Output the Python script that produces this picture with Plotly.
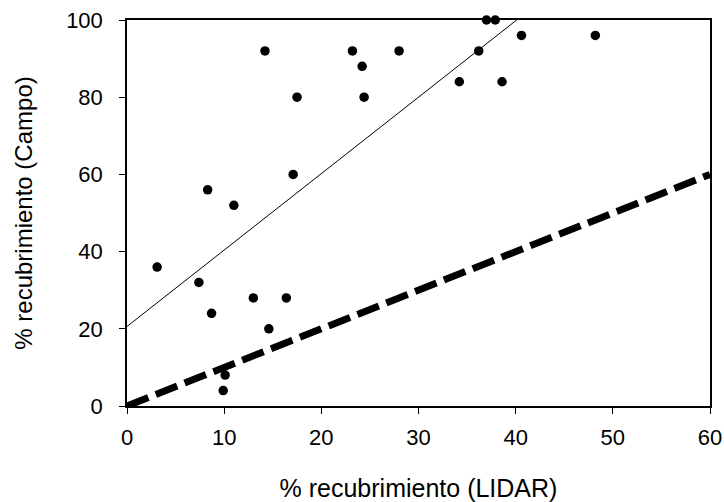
import plotly.graph_objects as go

# Cobertura medida con LIDAR frente a la medida en campo (%)
lidar = [3.1, 7.4, 8.3, 8.7, 10.1, 9.9, 11.0, 13.0, 14.2, 14.6, 16.4, 17.1,
         17.5, 23.2, 24.2, 24.4, 28.0, 34.2, 36.2, 37.0, 37.9, 38.6, 40.6, 48.2]
campo = [36, 32, 56, 24, 8, 4, 52, 28, 92, 20, 28, 60,
         80, 92, 88, 80, 92, 84, 92, 100, 100, 84, 96, 96]

# Recta de ajuste (campo = a + b * lidar)
fit_intercept = 20.6
fit_slope = 1.98

# Extremos del eje X y línea 1:1
x_limits = [0, 60]
one_to_one = [0, 60]

font_family = "Liberation Sans, Arial, sans-serif"

fig = go.Figure()

fig.add_trace(go.Scatter(
    x=x_limits,
    y=[fit_intercept + fit_slope * v for v in x_limits],
    mode="lines",
    line=dict(color="black", width=1),
    showlegend=False,
    hoverinfo="skip",
))

fig.add_trace(go.Scatter(
    x=one_to_one,
    y=one_to_one,
    mode="lines",
    line=dict(color="black", width=7, dash="23px,8px"),
    showlegend=False,
    hoverinfo="skip",
))

fig.add_trace(go.Scatter(
    x=lidar,
    y=campo,
    mode="markers",
    marker=dict(color="black", size=9.5, line=dict(width=0)),
    cliponaxis=False,
    showlegend=False,
))

axis_common = dict(
    showgrid=False,
    zeroline=False,
    showline=True,
    linecolor="black",
    linewidth=1.5,
    mirror=True,
    ticks="outside",
    ticklen=6,
    tickwidth=1,
    tickcolor="black",
    automargin=False,
    tickfont=dict(family=font_family, size=22, color="black"),
)

fig.update_xaxes(
    range=[0, 60],
    tickvals=[0, 10, 20, 30, 40, 50, 60],
    ticklabelstandoff=5,
    title=dict(text="% recubrimiento (LIDAR)",
               font=dict(family=font_family, size=25, color="black"),
               standoff=32),
    **axis_common,
)
fig.update_yaxes(
    range=[0, 100],
    tickvals=[0, 20, 40, 60, 80, 100],
    ticklabelstandoff=12,
    title=dict(text="% recubrimiento (Campo)",
               font=dict(family=font_family, size=24, color="black"),
               standoff=27),
    **axis_common,
)

fig.update_layout(
    width=724,
    height=502,
    margin=dict(l=127, r=14, t=20, b=96),
    paper_bgcolor="white",
    plot_bgcolor="white",
)

fig.write_html("out.html")
